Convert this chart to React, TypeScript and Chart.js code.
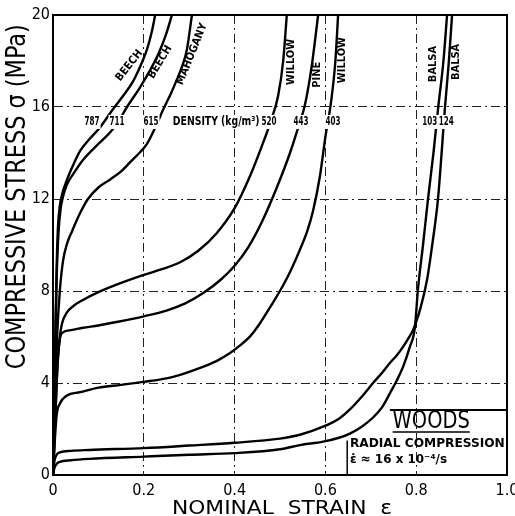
import React, { useEffect, useRef } from "react";
import { Chart, registerables } from "chart.js";

Chart.register(...registerables);

// ---- axis ticks ----
const xTickValues = [0, 0.2, 0.4, 0.6, 0.8, 1.0];
const xTickLabels = ["0", "0.2", "0.4", "0.6", "0.8", "1.0"];
const yTickValues = [0, 4, 8, 12, 16, 20];
const yTickLabels = ["0", "4", "8", "12", "16", "20"];

// ---- series: nominal strain / compressive stress (MPa) ----
const beech787Strain = [0, 0.004, 0.008, 0.011, 0.015, 0.02, 0.03, 0.045, 0.06, 0.08, 0.103, 0.132, 0.155, 0.176, 0.193, 0.207, 0.218, 0.225];
const beech787Stress = [0, 5, 9, 10.8, 11.7, 12.2, 12.8, 13.5, 14.1, 14.6, 15.1, 15.9, 16.5, 17.1, 17.8, 18.5, 19.3, 20];

const beech711Strain = [0, 0.004, 0.008, 0.012, 0.017, 0.022, 0.03, 0.045, 0.066, 0.095, 0.126, 0.145, 0.163, 0.19, 0.214, 0.232, 0.248, 0.262];
const beech711Stress = [0, 4.5, 8.5, 10.5, 11.6, 12.1, 12.6, 13.1, 13.7, 14.3, 14.9, 15.4, 16, 16.8, 17.6, 18.3, 19.1, 20];

const mahogany615Strain = [0, 0.005, 0.009, 0.015, 0.022, 0.03, 0.042, 0.06, 0.077, 0.1, 0.126, 0.15, 0.17, 0.19, 0.207, 0.225, 0.243, 0.26, 0.273, 0.285, 0.295, 0.306];
const mahogany615Stress = [0, 3.5, 6, 8, 9.3, 10.0, 10.6, 11.4, 12.0, 12.5, 12.85, 13.2, 13.6, 14.0, 14.4, 15.1, 15.9, 16.6, 17.2, 17.8, 18.5, 20];

const willow520Strain = [0, 0.005, 0.01, 0.015, 0.02, 0.03, 0.045, 0.065, 0.1, 0.15, 0.2, 0.24, 0.28, 0.32, 0.36, 0.4, 0.434, 0.46, 0.48, 0.496, 0.507, 0.515];
const willow520Stress = [0, 2.5, 4.8, 6.0, 6.6, 7.05, 7.35, 7.6, 7.95, 8.35, 8.7, 8.95, 9.25, 9.75, 10.5, 11.6, 13.0, 14.3, 15.4, 16.5, 18, 20];

const pine443Strain = [0, 0.005, 0.01, 0.015, 0.022, 0.04, 0.066, 0.1, 0.14, 0.2, 0.25, 0.29, 0.33, 0.37, 0.4, 0.43, 0.46, 0.493, 0.522, 0.54, 0.555, 0.57, 0.584];
const pine443Stress = [0, 2.5, 4.8, 5.9, 6.2, 6.3, 6.4, 6.5, 6.65, 6.9, 7.15, 7.45, 7.9, 8.5, 9.1, 9.9, 11.0, 12.5, 14.0, 15.1, 16.1, 17.8, 20];

const willow403Strain = [0, 0.004, 0.008, 0.015, 0.03, 0.06, 0.1, 0.15, 0.2, 0.25, 0.287, 0.33, 0.36, 0.39, 0.41, 0.435, 0.456, 0.48, 0.507, 0.525, 0.544, 0.56, 0.573, 0.588, 0.6, 0.613, 0.622, 0.628];
const willow403Stress = [0, 1.5, 2.6, 3.1, 3.45, 3.6, 3.8, 3.92, 4.05, 4.2, 4.4, 4.7, 4.95, 5.3, 5.6, 6.05, 6.6, 7.35, 8.25, 8.95, 9.8, 10.6, 11.5, 13.0, 14.7, 16.3, 18, 20];

const balsa124Strain = [0, 0.003, 0.008, 0.015, 0.04, 0.08, 0.2, 0.3, 0.4, 0.5, 0.544, 0.595, 0.63, 0.654, 0.68, 0.705, 0.725, 0.742, 0.757, 0.771, 0.783, 0.793, 0.81, 0.824, 0.836, 0.848, 0.856, 0.863, 0.872, 0.879];
const balsa124Stress = [0, 0.6, 0.88, 0.98, 1.05, 1.09, 1.17, 1.28, 1.4, 1.58, 1.75, 2.1, 2.45, 2.85, 3.4, 4.0, 4.45, 4.87, 5.2, 5.57, 5.95, 6.3, 7.3, 8.5, 10.1, 12, 14, 15.9, 18, 20];

const balsa103Strain = [0, 0.003, 0.008, 0.015, 0.04, 0.08, 0.2, 0.3, 0.4, 0.5, 0.544, 0.595, 0.63, 0.654, 0.68, 0.705, 0.725, 0.742, 0.757, 0.771, 0.786, 0.797, 0.804, 0.815, 0.826, 0.838, 0.848, 0.86, 0.868];
const balsa103Stress = [0, 0.3, 0.48, 0.57, 0.64, 0.7, 0.8, 0.88, 0.95, 1.12, 1.3, 1.45, 1.62, 1.8, 2.1, 2.5, 2.95, 3.55, 4.1, 4.7, 5.57, 6.4, 8.1, 10, 12, 14, 15.9, 18, 20];

// ---- annotation texts ----
const speciesNames = ["BEECH", "BEECH", "MAHOGANY", "WILLOW", "PINE", "WILLOW", "BALSA", "BALSA"];
const speciesStrain = [0.168, 0.236, 0.306, 0.524, 0.581, 0.637, 0.837, 0.888];
const speciesStress = [17.8, 17.95, 18.3, 17.96, 17.4, 18.04, 17.87, 17.96];
const speciesAngle = [-52, -59, -68, -90, -90, -90, -90, -90];

const densityLabels = ["787", "711", "615", "520", "443", "403", "103", "124"];
const densityStrain = [0.086, 0.141, 0.216, 0.476, 0.546, 0.617, 0.83, 0.866];
const densityRowStress = 15.35;
const densityCaption = "DENSITY (kg/m³)";
const densityCaptionStrain = 0.264;

const FONT = "'DejaVu Sans Condensed', 'DejaVu Sans', sans-serif";

function drawFitted(ctx: CanvasRenderingContext2D, text: string, x: number, y: number, width: number, font: string, angle: number, align: CanvasTextAlign) {
  ctx.save();
  ctx.translate(x, y);
  ctx.rotate((angle * Math.PI) / 180);
  ctx.font = font;
  const w = ctx.measureText(text).width;
  const s = w > 0 ? width / w : 1;
  ctx.scale(s, 1);
  ctx.textAlign = align;
  ctx.textBaseline = "middle";
  ctx.fillStyle = "#000";
  ctx.fillText(text, 0, 0);
  ctx.restore();
}

const annotations = {
  id: "woodAnnotations",
  afterDatasetsDraw(chart: any) {
    const { ctx, chartArea, scales } = chart;
    const xs = scales.x;
    const ys = scales.y;
    const px = (v: number) => xs.getPixelForValue(v);
    const py = (v: number) => ys.getPixelForValue(v);

    // frame
    ctx.save();
    ctx.strokeStyle = "#000";
    ctx.lineWidth = 2;
    ctx.strokeRect(chartArea.left, chartArea.top, chartArea.right - chartArea.left, chartArea.bottom - chartArea.top);
    ctx.restore();

    // density row, with white background interrupting curves
    const rowY = py(densityRowStress);
    densityLabels.forEach((t, i) => {
      const x = px(densityStrain[i]);
      const w = 15;
      ctx.save();
      ctx.fillStyle = "#fff";
      ctx.fillRect(x - w / 2 - 1, rowY - 7, w + 2, 14);
      ctx.restore();
      drawFitted(ctx, t, x, rowY, w, `bold 12px ${FONT}`, 0, "center");
    });
    const cx = px(densityCaptionStrain);
    const cw = px(0.455) - cx;
    ctx.save();
    ctx.fillStyle = "#fff";
    ctx.fillRect(cx - 1, rowY - 7, cw + 2, 14);
    ctx.restore();
    drawFitted(ctx, densityCaption, cx, rowY, cw, `bold 12px ${FONT}`, 0, "left");

    // species names along curves
    speciesNames.forEach((t, i) => {
      ctx.save();
      ctx.font = `bold 11px ${FONT}`;
      const w = ctx.measureText(t).width;
      ctx.restore();
      drawFitted(ctx, t, px(speciesStrain[i]), py(speciesStress[i]), w, `bold 11px ${FONT}`, speciesAngle[i], "center");
    });

    // WOODS box
    ctx.save();
    ctx.strokeStyle = "#000";
    ctx.lineWidth = 2;
    ctx.beginPath();
    ctx.moveTo(px(0.742), py(2.83));
    ctx.lineTo(px(1.0), py(2.83));
    ctx.stroke();
    ctx.lineWidth = 1.5;
    ctx.beginPath();
    ctx.moveTo(px(0.748), py(1.87));
    ctx.lineTo(px(0.918), py(1.87));
    ctx.stroke();
    ctx.beginPath();
    ctx.moveTo(px(0.648), py(1.5));
    ctx.lineTo(px(0.648), py(0));
    ctx.stroke();
    ctx.restore();
    drawFitted(ctx, "WOODS", px(0.833), py(2.3), px(0.918) - px(0.748), `24px ${FONT}`, 0, "center");
    drawFitted(ctx, "RADIAL COMPRESSION", px(0.654), py(1.35), px(0.995) - px(0.654), `bold 13px ${FONT}`, 0, "left");
    drawFitted(ctx, "ε̇ ≈ 16 x 10⁻⁴/s", px(0.654), py(0.65), px(0.868) - px(0.654), `bold 13px ${FONT}`, 0, "left");

    // axis titles
    drawFitted(ctx, "COMPRESSIVE STRESS σ (MPa)", 18, (py(19.6) + py(4.6)) / 2, py(4.6) - py(19.6), `26px ${FONT}`, -90, "center");
    drawFitted(ctx, "NOMINAL  STRAIN  ε", (px(0.262) + px(0.747)) / 2, 509, px(0.747) - px(0.262), `20px ${FONT}`, 0, "center");
  },
};

const seriesList = [
  { name: "Beech 787", x: beech787Strain, y: beech787Stress },
  { name: "Beech 711", x: beech711Strain, y: beech711Stress },
  { name: "Mahogany 615", x: mahogany615Strain, y: mahogany615Stress },
  { name: "Willow 520", x: willow520Strain, y: willow520Stress },
  { name: "Pine 443", x: pine443Strain, y: pine443Stress },
  { name: "Willow 403", x: willow403Strain, y: willow403Stress },
  { name: "Balsa 124", x: balsa124Strain, y: balsa124Stress },
  { name: "Balsa 103", x: balsa103Strain, y: balsa103Stress },
];

export default function App() {
  const ref = useRef<HTMLCanvasElement | null>(null);
  useEffect(() => {
    if (!ref.current) return;
    const chart = new Chart(ref.current, {
      type: "line",
      data: {
        datasets: seriesList.map((s) => ({
          label: s.name,
          data: s.x.map((v, i) => ({ x: v, y: s.y[i] })),
          borderColor: "#000",
          borderWidth: 2.4,
          pointRadius: 0,
          fill: false,
          cubicInterpolationMode: "monotone" as const,
        })),
      },
      options: {
        responsive: false,
        animation: false,
        devicePixelRatio: 1,
        layout: { padding: { top: 15, right: 8, left: 0, bottom: 0 } },
        plugins: { legend: { display: false }, tooltip: { enabled: false } },
        scales: {
          x: {
            type: "linear",
            min: 0,
            max: 1,
            afterBuildTicks: (scale: any) => {
              scale.ticks = xTickValues.map((v) => ({ value: v }));
            },
            afterFit: (scale: any) => {
              scale.height = 41;
              scale.paddingLeft = 0;
              scale.paddingRight = 0;
            },
            ticks: {
              autoSkip: false,
              maxRotation: 0,
              padding: 6,
              color: "#000",
              font: { family: FONT, size: 16 },
              callback: (_v: any, i: number) => xTickLabels[i],
            },
            grid: { color: "#222", lineWidth: 1, drawTicks: false },
            border: { display: true, color: "#000", width: 2, dash: [9, 4, 2, 4] },
          },
          y: {
            type: "linear",
            min: 0,
            max: 20,
            afterBuildTicks: (scale: any) => {
              scale.ticks = yTickValues.map((v) => ({ value: v }));
            },
            afterFit: (scale: any) => {
              scale.width = 53;
              scale.paddingTop = 0;
              scale.paddingBottom = 0;
            },
            ticks: {
              autoSkip: false,
              padding: 3,
              color: "#000",
              font: { family: FONT, size: 16 },
              callback: (_v: any, i: number) => yTickLabels[i],
            },
            grid: { color: "#222", lineWidth: 1, drawTicks: false },
            border: { display: true, color: "#000", width: 2, dash: [9, 4, 2, 4] },
          },
        },
      },
      plugins: [annotations],
    });
    return () => chart.destroy();
  }, []);
  return (
    <div style={{ position: "absolute", left: 0, top: 0, width: 515, height: 516, background: "#fff" }}>
      <canvas ref={ref} width={515} height={516} style={{ width: 515, height: 516, display: "block" }} />
    </div>
  );
}
